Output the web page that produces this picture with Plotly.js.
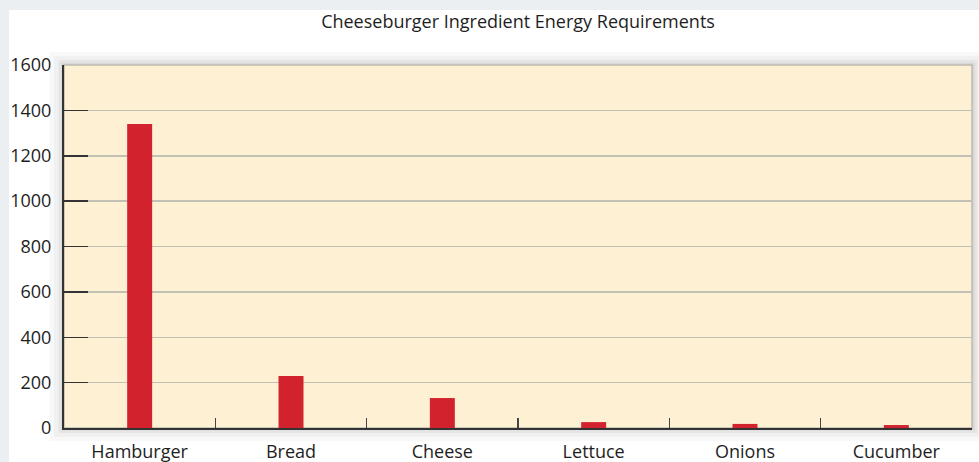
<!DOCTYPE html>
<html>
<head>
<meta charset="utf-8">
<script src="https://cdn.plot.ly/plotly-3.0.1.min.js"></script>
<style>
  html, body { margin: 0; padding: 0; background: #eceff1; width: 979px; height: 462px; overflow: hidden; }
  #chart { position: absolute; left: 9px; top: 10px; width: 970px; height: 452px; }
</style>
</head>
<body>
<div id="chart"></div>
<script>
const categories = ["Hamburger", "Bread", "Cheese", "Lettuce", "Onions", "Cucumber"];
const energyValues = [1340, 229, 132, 26, 18, 13];
const yTickValues = [0, 200, 400, 600, 800, 1000, 1200, 1400, 1600];

const FONT = "'Open Sans', sans-serif";

// soft shadow around the plot area
const shadowShapes = [];
const steps = [[0.016, 0.036, 0.035], [0.011, 0.024, 0.045], [0.006, 0.014, 0.06], [0.003, 0.006, 0.08]];
steps.forEach(([dx, dy, op]) => {
  shadowShapes.push({
    type: "rect", xref: "paper", yref: "paper", layer: "below",
    x0: -dx, x1: 1 + dx, y0: -dy, y1: 1 + dy,
    fillcolor: "rgba(60,60,60," + op + ")", line: { width: 0 }
  });
});
shadowShapes.push({
  type: "rect", xref: "paper", yref: "paper", layer: "below",
  x0: 0, x1: 1, y0: 0, y1: 1,
  fillcolor: "#fef0d3", line: { color: "#bcb9ae", width: 1.5 }
});

const data = [{
  type: "bar",
  x: categories,
  y: energyValues,
  width: 0.165,
  marker: { color: "#d2222d", line: { width: 0 } },
  hoverinfo: "x+y"
}];

const layout = {
  width: 970,
  height: 452,
  paper_bgcolor: "#ffffff",
  plot_bgcolor: "rgba(0,0,0,0)",
  margin: { l: 55, r: 7, t: 55, b: 34 },
  showlegend: false,
  title: {
    text: "Cheeseburger Ingredient Energy Requirements",
    font: { family: FONT, size: 18, color: "#1e1e1e" },
    x: 0.5, xref: "paper", xanchor: "center",
    y: 1 - 12 / 452, yref: "container", yanchor: "middle"
  },
  xaxis: {
    type: "category",
    tickson: "boundaries",
    ticks: "inside",
    ticklen: 10,
    tickwidth: 1.5,
    tickcolor: "#444",
    showline: true,
    linecolor: "#333",
    linewidth: 2,
    showgrid: false,
    tickfont: { family: FONT, size: 18, color: "#1e1e1e" },
    ticklabelstandoff: 6,
    fixedrange: true
  },
  yaxis: {
    range: [0, 1600],
    tickvals: yTickValues,
    ticktext: yTickValues.map(String),
    ticks: "inside",
    ticklen: 24,
    tickwidth: 1.5,
    tickcolor: "#333",
    showline: true,
    linecolor: "#333",
    linewidth: 2,
    showgrid: true,
    gridcolor: "#c2c0b4",
    gridwidth: 1.5,
    zeroline: false,
    tickfont: { family: FONT, size: 18, color: "#1e1e1e" },
    ticklabelstandoff: 7,
    fixedrange: true
  },
  shapes: shadowShapes,
  bargap: 0.8
};

Plotly.newPlot("chart", data, layout, { displayModeBar: false, staticPlot: true });
</script>
</body>
</html>
